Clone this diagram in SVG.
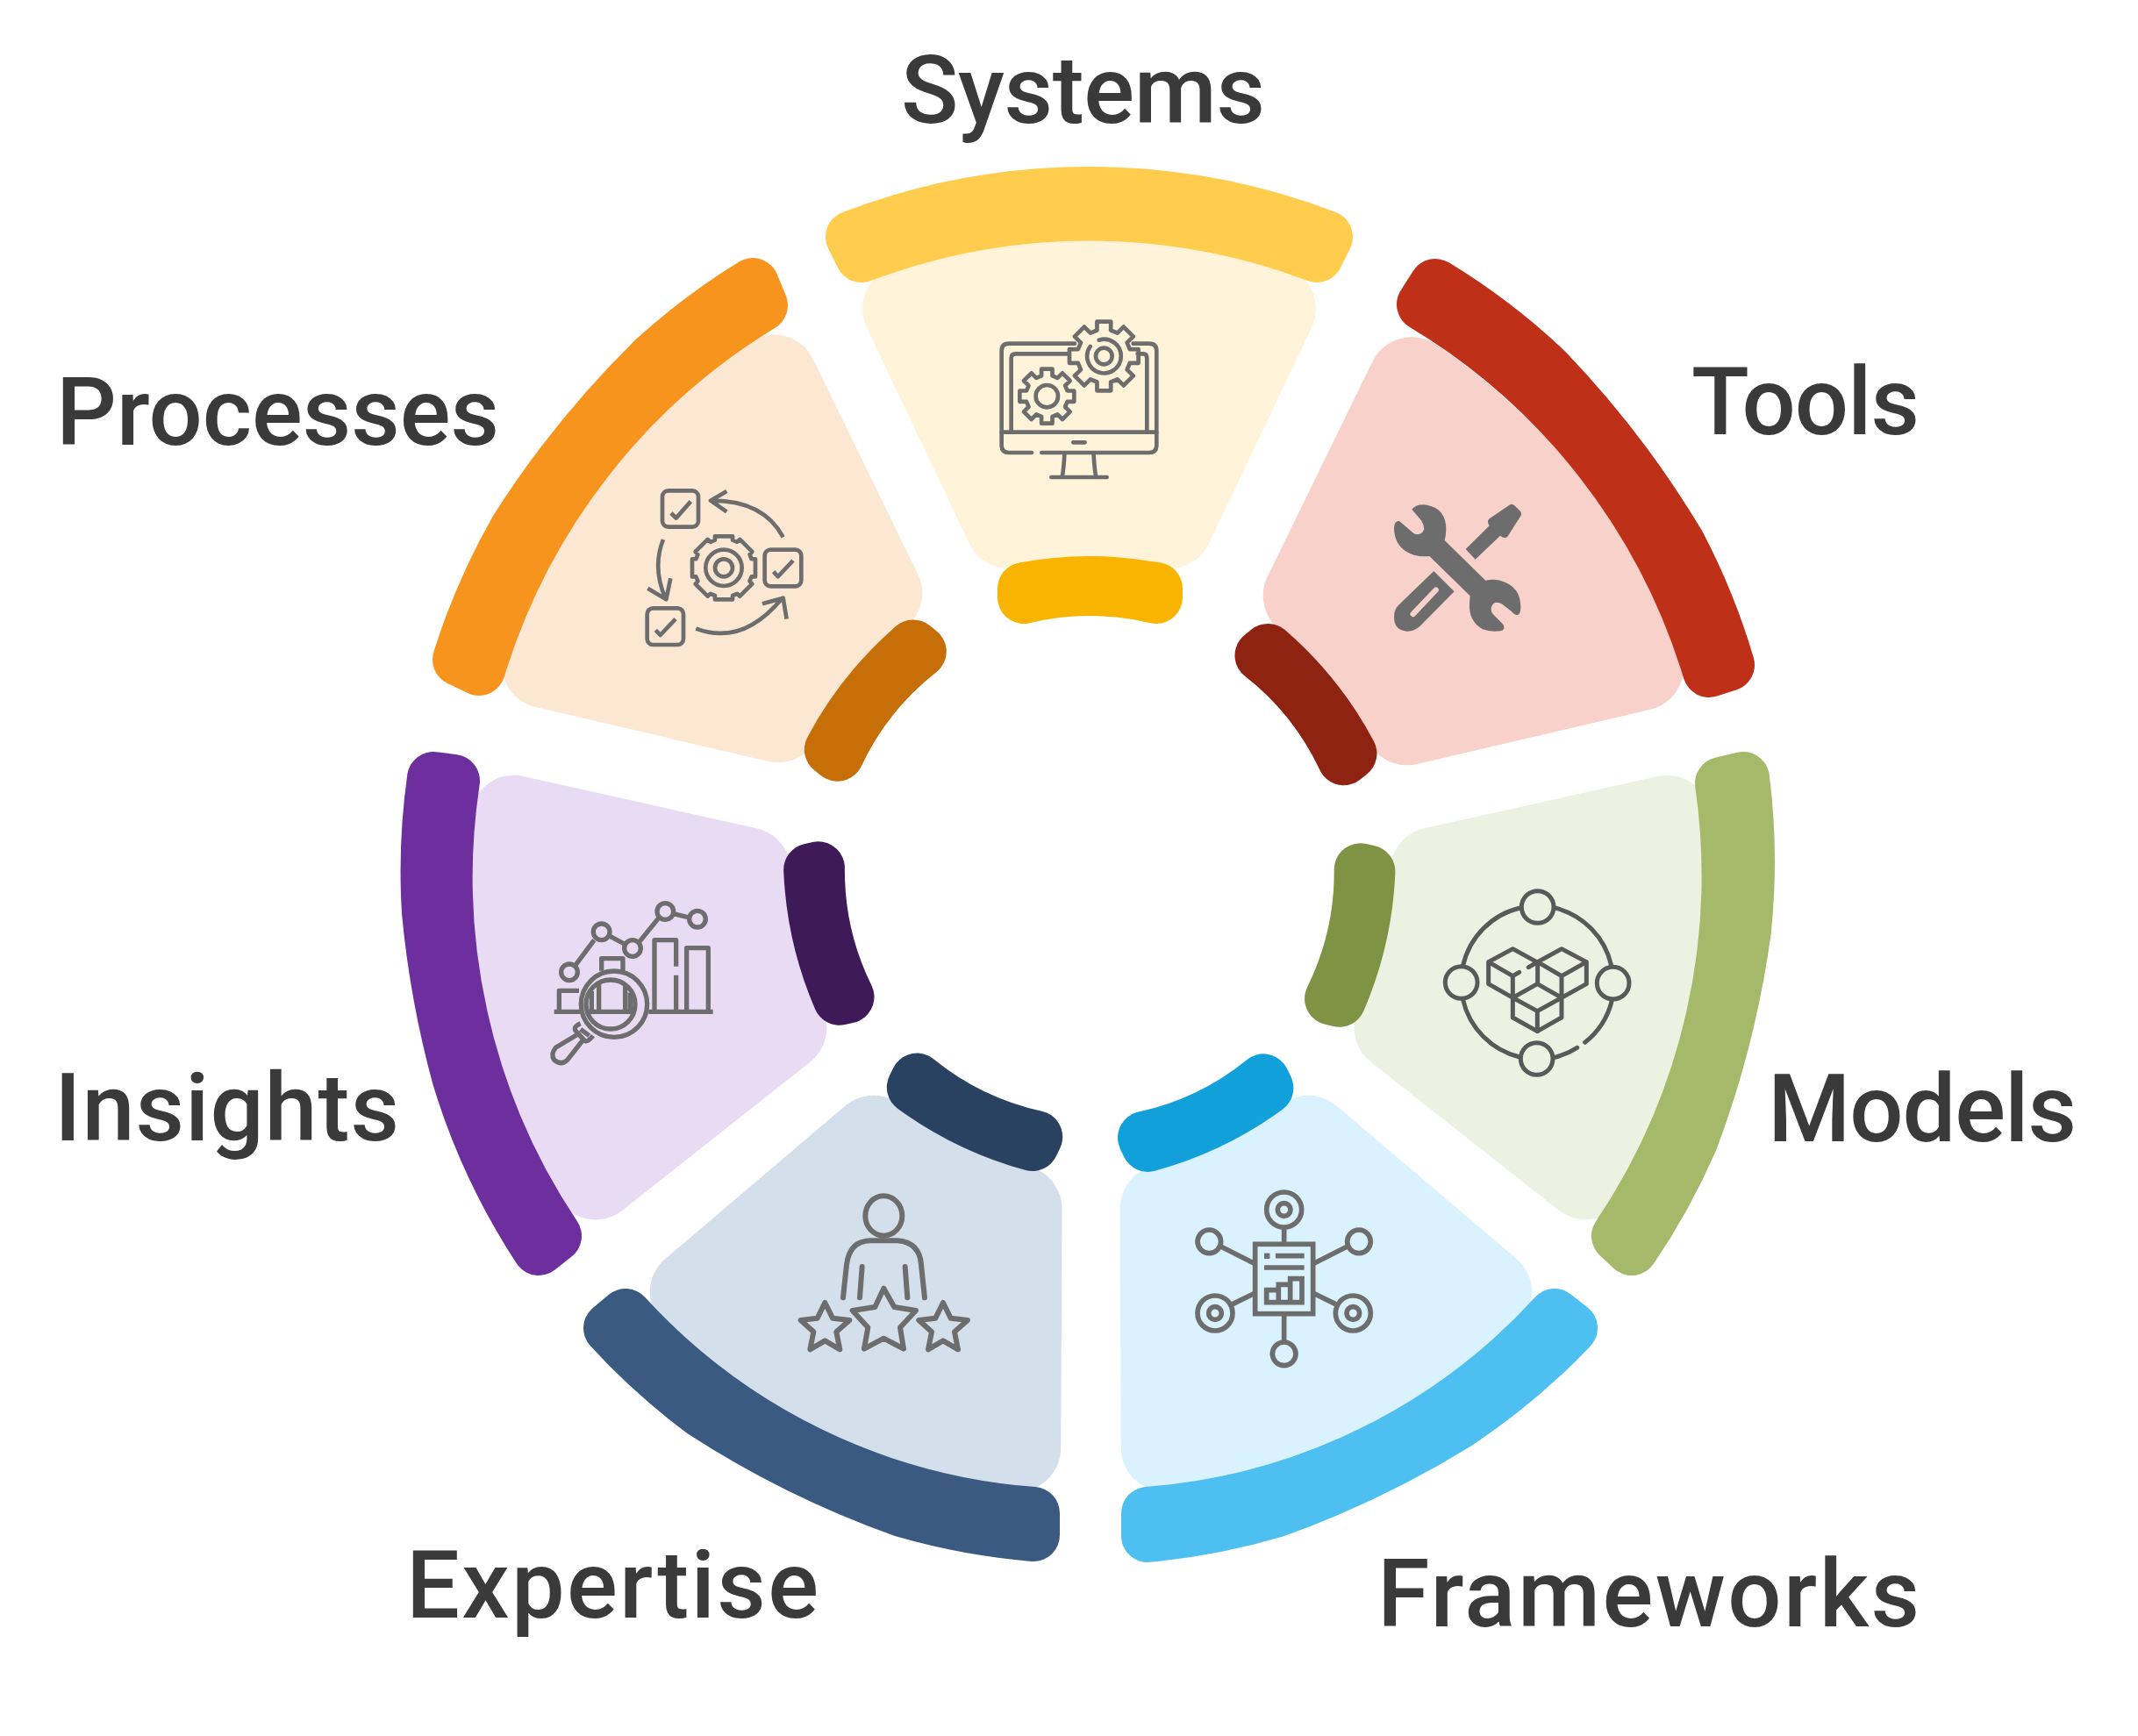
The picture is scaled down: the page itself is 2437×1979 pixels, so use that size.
<svg xmlns="http://www.w3.org/2000/svg" width="2437" height="1979" viewBox="0 0 2437 1979">
<style>
.lbl{font-family:"Roboto","Liberation Sans",sans-serif;font-weight:500;font-size:108px;fill:#3A3A3A}
.bar{stroke-width:60;stroke-linejoin:round}
.pale{stroke-width:100;stroke-linejoin:round}
.inner{stroke-width:60;stroke-linejoin:round}
.ic{fill:none;stroke:#6D6D6D;stroke-width:14;stroke-linecap:round;stroke-linejoin:round}
</style>
<defs>
<path id="pale" d="M1033 352L1150 598L1333 598L1450 352A703 703 0 0 0 1033 352Z"/>
<path id="inner" d="M1167 671Q1242 657 1318 671L1318 681Q1242 663 1167 681Z"/>
<path id="gear" d="M-20-75V-100H20V-75L39-67L57-85L85-57L67-39L75-20H100V20H75L67 39L85 57L57 85L39 67L20 75V100H-20V75L-39 67L-57 85L-85 57L-67 39L-75 20H-100V-20H-75L-67-39L-85-57L-57-85L-39-67Z"/>
<path id="gear2" d="M-28-88V-100H28V-88L42-82L51-90L90-51L82-42L88-28H100V28H88L82 42L90 51L51 90L42 82L28 88V100H-28V88L-42 82L-51 90L-90 51L-82 42L-88 28H-100V-28H-88L-82-42L-90-51L-51-90L-42-82Z"/>
</defs>
<rect width="2437" height="1979" fill="#fff"/>

<g id="node-systems">
<use href="#pale" class="pale" fill="#FFF4DA" stroke="#FFF4DA"/>
<path class="bar" fill="#FFCC4D" stroke="#FFCC4D" d="M971 270A758 758 0 0 1 1512 270L1501 292A733 733 0 0 0 982 292Z"/>
<use href="#inner" class="inner" fill="#F8B400" stroke="#F8B400"/>
<g class="ic" transform="translate(1100 340) scale(.3333)">
<path d="M228 528H150Q125 528 125 503V180Q125 155 150 155H375M575 155H630Q655 155 655 180V503Q655 528 630 528H262"/>
<path d="M158 458V205Q158 190 173 190H355M590 190H610Q622 190 622 205V458M125 458H655M370 493H410M340 535Q338 580 332 612M440 535Q442 580 448 612M295 612H485"/>
<use href="#gear" transform="translate(475 198) scale(1.18)" stroke-width="12"/>
<use href="#gear" transform="translate(280 335) scale(.93)" stroke-width="15"/>
<path d="M458 143A58 58 0 1 1 428 165"/><circle cx="475" cy="198" r="28"/><circle cx="280" cy="335" r="38"/>
</g>
<text class="lbl" x="1027" y="140" textLength="415">Systems</text>
</g>

<g id="node-tools">
<use href="#pale" class="pale" fill="#F7D1CA" stroke="#F7D1CA" transform="translate(9 10) rotate(51.43 1241.5 977)"/>
<path class="bar" fill="#BF3018" stroke="#BF3018" d="M1636 325A758 758 0 0 1 1763 422A1100 1100 0 0 1 1914 620A758 758 0 0 1 1970 758L1948 765A735 735 0 0 0 1622 347Z"/>
<use href="#inner" class="inner" fill="#8F2312" stroke="#8F2312" transform="translate(11 13) rotate(51.43 1241.5 977)"/>
<g transform="translate(1570 560) scale(.3333)">
<path fill="#6D6D6D" d="M118 62Q135 42 170 47Q235 60 235 130Q235 150 230 168L370 305Q395 300 420 305Q490 325 490 395Q490 420 480 423Q470 425 460 412L425 385Q400 372 390 395Q385 412 400 425L430 455Q440 475 420 478Q385 482 360 472Q312 445 315 385L317 358L178 222Q150 225 125 218Q57 195 57 125Q58 100 75 102L125 145Q150 155 160 130Q160 115 150 100Z"/>
<path fill="#6D6D6D" d="M302 198L383 118Q372 100 385 92L455 45Q465 42 472 52L490 70Q495 78 490 85L445 155Q435 165 420 152L335 233Z"/>
<path fill="#6D6D6D" d="M193 273L263 343L145 462Q125 480 100 479Q57 475 57 430Q57 405 72 390Z"/>
<path d="M122 420L200 338" stroke="#F7D1CA" stroke-width="19" stroke-linecap="round" fill="none"/>
</g>
<text class="lbl" x="1928" y="495" textLength="260">Tools</text>
</g>

<g id="node-models">
<use href="#pale" class="pale" fill="#ECF1E2" stroke="#ECF1E2" transform="translate(3 21) rotate(102.86 1241.5 977)"/>
<path class="bar" fill="#A4B96A" stroke="#A4B96A" d="M1987 887A760 760 0 0 1 1989 1060A1100 1100 0 0 1 1928.500 1299.500A758 758 0 0 1 1860 1424L1844 1409A735 735 0 0 0 1962 893Z"/>
<use href="#inner" class="inner" fill="#7E9444" stroke="#7E9444" transform="translate(4 21) rotate(102.86 1241.5 977)"/>
<g class="ic" style="stroke:#595959;stroke-width:15" transform="translate(1630 1000) scale(.3333)">
<circle cx="368" cy="102" r="55"/><circle cx="107" cy="360" r="55"/><circle cx="626" cy="362" r="55"/><circle cx="365" cy="621" r="55"/>
<path d="M308 105A262 262 0 0 0 113 302M428 105A262 262 0 0 1 620 302M113 420A262 262 0 0 0 306 615M428 616A262 262 0 0 0 503 583M530 565A262 262 0 0 0 622 422"/>
<path d="M365 290L283 245L200 290V365L283 412M200 290L283 338L305 325M283 338V480L367 527L450 480V410M337 308L368 290L450 245L535 290V365L450 412M368 290L450 338L535 290M450 338V410M368 290V362M283 412L367 458L450 412L367 365ZM367 458V527"/>
</g>
<text class="lbl" x="2015" y="1301" textLength="352">Models</text>
</g>

<g id="node-frameworks">
<path class="pale" fill="#DAF2FD" stroke="#DAF2FD" transform="translate(3 20) rotate(154.29 1241.5 977)" d="M1041 352L1150 598L1333 598L1450 352A703 703 0 0 0 1041 352Z"/>
<path class="bar" fill="#4DBFF0" stroke="#4DBFF0" d="M1791 1514A758 758 0 0 1 1661 1623A1100 1100 0 0 1 1453 1723A758 758 0 0 1 1308 1751L1308 1725A700 700 0 0 0 1772 1499Z"/>
<use href="#inner" class="inner" fill="#12A0DB" stroke="#12A0DB" transform="translate(3 20) rotate(154.29 1241.5 977)"/>
<g class="ic" style="stroke-width:17;stroke-linecap:butt;stroke-linejoin:miter" transform="translate(1350 1350) scale(.3333)">
<rect x="242" y="205" width="198" height="238"/>
<circle cx="341" cy="87" r="60"/><circle cx="341" cy="87" r="22"/><circle cx="85" cy="196" r="40"/><circle cx="597" cy="196" r="40"/>
<circle cx="105" cy="441" r="60"/><circle cx="105" cy="441" r="22"/><circle cx="577" cy="441" r="60"/><circle cx="577" cy="441" r="22"/><circle cx="341" cy="580" r="40"/>
<path d="M341 147V205M125 213L242 272M557 213L440 272M165 410L242 372M517 410L440 372M341 443V540M312 245H410M273 285H410M281 404V362H322V343H362V323H402V404ZM322 362V404M362 343V404"/>
<rect x="273" y="236" width="19" height="19" fill="#6D6D6D" stroke="none"/>
</g>
<text class="lbl" x="1570" y="1854" textLength="618">Frameworks</text>
</g>

<g id="node-expertise">
<path class="pale" fill="#D3DFEA" stroke="#D3DFEA" transform="translate(1 20) rotate(-154.29 1241.5 977)" d="M1033 352L1150 598L1333 598L1442 352A703 703 0 0 0 1033 352Z"/>
<path class="bar" fill="#3B5A82" stroke="#3B5A82" d="M1178 1750A758 758 0 0 1 1031 1723A1100 1100 0 0 1 800 1609A758 758 0 0 1 695 1514L713 1499A700 700 0 0 0 1178 1725Z"/>
<use href="#inner" class="inner" fill="#2A4262" stroke="#2A4262" transform="translate(1 20) rotate(-154.29 1241.5 977)"/>
<g class="ic" style="stroke-width:18" transform="translate(900 1350) scale(.3333)">
<ellipse cx="322" cy="108" rx="63" ry="68"/>
<path d="M183 388L195 275Q205 195 275 193H370Q445 200 450 275L462 388M248 282L240 388M395 282L403 388"/>
<path d="M322 356L358 420L432 432L378 490L390 563L322 527L255 563L268 490L215 432L292 420Z"/>
<path d="M121 405L147 458L205 465L160 505L172 565L121 535L70 565L82 505L38 465L95 458Z"/>
<path d="M525 405L551 458L609 465L564 505L576 565L525 535L474 565L486 505L442 465L499 458Z"/>
</g>
<text class="lbl" x="463" y="1844" textLength="470">Expertise</text>
</g>

<g id="node-insights">
<use href="#pale" class="pale" fill="#E9DBF4" stroke="#E9DBF4" transform="translate(0 21) rotate(-102.86 1241.5 977)"/>
<path class="bar" fill="#6E2F9E" stroke="#6E2F9E" d="M614 1424A758 758 0 0 1 522.600 1229A1100 1100 0 0 1 488 1040A760 760 0 0 1 494 887L517 890A735 735 0 0 0 633 1409Z"/>
<use href="#inner" class="inner" fill="#3F1A58" stroke="#3F1A58" transform="translate(-3 21) rotate(-102.86 1241.5 977)"/>
<g class="ic" style="stroke-width:16;stroke-linecap:butt;stroke-linejoin:round" transform="translate(620 1010) scale(.3333)">
<circle cx="87" cy="295" r="28"/><circle cx="197" cy="157" r="28"/><circle cx="303" cy="213" r="28"/><circle cx="415" cy="87" r="28"/><circle cx="525" cy="113" r="28"/>
<path d="M107 272L172 185M222 170L275 198M327 190L392 110M443 95L497 108M35 430H125M358 430H578M52 425V358H120M197 290V248H270V290M188 335V425M278 335V425M163 360V425M295 365V430M150 430H305M378 425V185H452V275M452 305V425M488 425V212H562V425"/>
<circle cx="240" cy="404" r="113"/><circle cx="228" cy="405" r="84"/>
<path d="M125 470Q100 480 108 495L140 530Q150 535 168 512M120 505L40 553Q22 575 35 595Q60 615 80 595L135 525M125 490L155 512"/>
</g>
<text class="lbl" x="62" y="1300" textLength="393">Insights</text>
</g>

<g id="node-processes">
<use href="#pale" class="pale" fill="#FCE8D2" stroke="#FCE8D2" transform="translate(-1 7) rotate(-51.43 1241.5 977)"/>
<path class="bar" fill="#F7941E" stroke="#F7941E" d="M523 752A758 758 0 0 1 588 603A1100 1100 0 0 1 744 410A758 758 0 0 1 858 324L868 348A735 735 0 0 0 546 763Z"/>
<use href="#inner" class="inner" fill="#C66E08" stroke="#C66E08" transform="translate(-9 10) rotate(-51.43 1241.5 977)"/>
<g class="ic" style="stroke-linecap:butt" transform="translate(700 530) scale(.3333)">
<rect x="165" y="88" width="123" height="124" rx="20"/><rect x="515" y="290" width="125" height="125" rx="20"/><rect x="113" y="490" width="124" height="125" rx="20"/>
<path d="M195 165L212 182L262 125M545 365L560 382L612 327M142 565L158 582L210 527"/>
<use href="#gear2" transform="translate(375 352) scale(1.08)" stroke-width="13"/>
<circle cx="375" cy="352" r="62"/><circle cx="375" cy="352" r="30"/>
<path d="M578 247Q510 120 330 122M385 90L330 122L385 160M280 560Q440 620 575 455M507 475L578 455L590 527M168 255Q130 350 175 455M115 422L178 460L193 388"/>
</g>
<text class="lbl" x="64" y="507" textLength="505">Processes</text>
</g>
</svg>
